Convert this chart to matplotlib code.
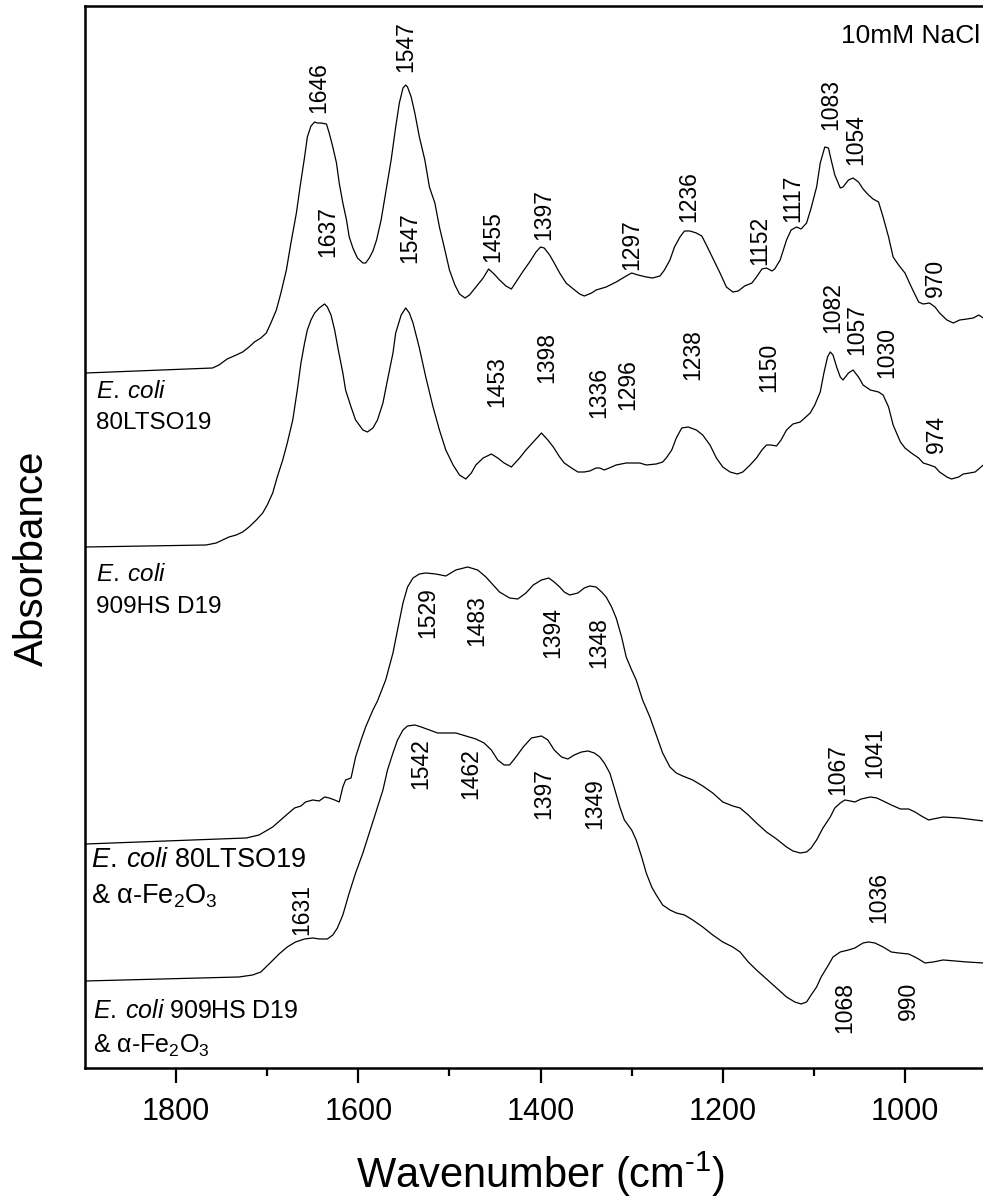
import numpy as np
import matplotlib
matplotlib.use("Agg")
import matplotlib.pyplot as plt

plt.rcParams['font.family'] = ['Liberation Sans', 'DejaVu Sans']
plt.rcParams['mathtext.fontset'] = 'custom'
plt.rcParams['mathtext.rm'] = 'Liberation Sans'
plt.rcParams['mathtext.it'] = 'Liberation Sans:italic'

# spectra: (wavenumber cm-1, stacked absorbance in arb. units)
trace_1 = [(1899, 695), (1760, 700), (1753, 703), (1744, 709), (1734, 713), (1727, 716),
           (1720, 721), (1714, 726), (1707, 730), (1701, 735), (1696, 745), (1690, 758),
           (1685, 775), (1679, 798), (1674, 825), (1668, 855), (1664, 881), (1659, 911),
           (1656, 931), (1652, 942), (1648, 946), (1645, 945), (1641, 945), (1635, 944),
           (1632, 935), (1628, 921), (1624, 905), (1621, 885), (1617, 865), (1613, 848),
           (1610, 831), (1606, 820), (1601, 810), (1595, 805), (1592, 805), (1588, 810),
           (1584, 817), (1580, 828), (1575, 848), (1570, 875), (1564, 908), (1559, 941),
           (1555, 965), (1551, 980), (1548, 983), (1546, 981), (1542, 971), (1538, 955),
           (1533, 931), (1527, 908), (1522, 881), (1516, 865), (1511, 841), (1505, 818),
           (1500, 798), (1494, 783), (1489, 774), (1483, 770), (1478, 773), (1471, 781),
           (1463, 790), (1457, 799), (1451, 794), (1445, 788), (1438, 782), (1432, 779),
           (1427, 786), (1419, 797), (1412, 806), (1405, 816), (1400, 821), (1396, 820),
           (1390, 813), (1385, 805), (1379, 795), (1372, 785), (1364, 779), (1357, 774),
           (1352, 772), (1344, 775), (1339, 778), (1328, 781), (1317, 786), (1306, 792),
           (1300, 795), (1293, 793), (1284, 791), (1277, 790), (1269, 792), (1264, 798),
           (1258, 808), (1253, 821), (1247, 831), (1242, 837), (1236, 837), (1229, 835),
           (1223, 832), (1218, 823), (1211, 810), (1203, 795), (1196, 781), (1189, 776),
           (1183, 777), (1176, 782), (1168, 785), (1163, 791), (1157, 799), (1152, 800),
           (1146, 797), (1143, 799), (1137, 808), (1130, 828), (1125, 838), (1119, 841),
           (1114, 839), (1108, 845), (1103, 860), (1097, 881), (1093, 905), (1088, 921),
           (1084, 920), (1081, 908), (1077, 893), (1071, 880), (1068, 881), (1062, 888),
           (1057, 890), (1051, 886), (1046, 879), (1040, 873), (1035, 869), (1029, 866),
           (1024, 851), (1018, 831), (1013, 811), (1007, 803), (1000, 795), (993, 781),
           (985, 766), (980, 764), (973, 765), (967, 761), (962, 755), (954, 748),
           (947, 745), (940, 748), (932, 749), (925, 750), (919, 753), (914, 750), (900, 748)]

trace_2 = [(1899, 521), (1767, 523), (1756, 525), (1749, 528), (1742, 531), (1734, 533),
           (1727, 536), (1720, 541), (1712, 548), (1705, 555), (1700, 563), (1694, 575),
           (1689, 591), (1683, 608), (1678, 625), (1672, 648), (1667, 678), (1663, 705),
           (1659, 725), (1656, 738), (1652, 748), (1648, 755), (1643, 760), (1637, 764),
           (1634, 761), (1630, 753), (1626, 738), (1622, 718), (1617, 695), (1614, 678),
           (1608, 661), (1603, 648), (1595, 638), (1590, 636), (1584, 640), (1579, 648),
           (1573, 665), (1568, 688), (1562, 715), (1559, 735), (1553, 753), (1548, 760),
           (1544, 755), (1540, 745), (1533, 720), (1526, 691), (1518, 661), (1511, 638),
           (1504, 618), (1496, 603), (1489, 593), (1482, 589), (1476, 595), (1471, 603),
           (1463, 610), (1454, 614), (1447, 610), (1440, 605), (1432, 601), (1423, 610),
           (1416, 618), (1408, 626), (1399, 635), (1392, 628), (1386, 621), (1379, 611),
           (1374, 605), (1366, 600), (1359, 596), (1352, 596), (1346, 597), (1339, 600),
           (1335, 600), (1330, 598), (1322, 601), (1317, 603), (1306, 605), (1299, 605),
           (1291, 605), (1284, 603), (1273, 604), (1266, 606), (1262, 610), (1256, 618),
           (1251, 630), (1245, 640), (1238, 641), (1229, 638), (1222, 633), (1214, 623),
           (1207, 610), (1200, 601), (1192, 596), (1184, 594), (1178, 596), (1170, 603),
           (1163, 610), (1157, 618), (1152, 623), (1147, 623), (1141, 622), (1136, 628),
           (1130, 638), (1123, 644), (1115, 646), (1110, 650), (1104, 655), (1099, 663),
           (1093, 676), (1089, 695), (1085, 711), (1082, 716), (1079, 713), (1075, 701),
           (1071, 691), (1068, 688), (1062, 695), (1057, 698), (1051, 691), (1046, 683),
           (1038, 678), (1029, 676), (1024, 673), (1018, 661), (1013, 643), (1005, 626),
           (1000, 620), (993, 615), (985, 610), (980, 605), (973, 603), (967, 601),
           (962, 596), (954, 591), (949, 589), (941, 591), (936, 594), (929, 595),
           (923, 596), (914, 603), (900, 601)]

trace_3 = [(1899, 224), (1723, 230), (1709, 233), (1694, 241), (1679, 253), (1670, 260),
           (1663, 262), (1658, 266), (1650, 268), (1643, 267), (1637, 271), (1632, 270),
           (1626, 268), (1621, 266), (1617, 281), (1614, 288), (1608, 290), (1603, 311),
           (1597, 328), (1592, 341), (1584, 358), (1579, 367), (1570, 388), (1562, 415),
           (1557, 438), (1551, 465), (1546, 481), (1540, 490), (1533, 494), (1526, 495),
           (1515, 494), (1504, 492), (1493, 498), (1480, 501), (1469, 498), (1460, 491),
           (1452, 483), (1445, 476), (1434, 470), (1425, 469), (1416, 475), (1408, 483),
           (1399, 488), (1391, 490), (1385, 486), (1379, 481), (1374, 476), (1368, 473),
           (1359, 475), (1352, 480), (1346, 482), (1339, 481), (1333, 476), (1328, 471),
           (1322, 461), (1317, 450), (1311, 431), (1306, 411), (1300, 398), (1295, 388),
           (1288, 368), (1280, 351), (1273, 333), (1266, 315), (1258, 301), (1251, 295),
           (1244, 292), (1233, 288), (1222, 282), (1211, 275), (1200, 266), (1189, 262),
           (1181, 260), (1172, 253), (1163, 245), (1152, 236), (1141, 229), (1130, 221),
           (1123, 217), (1115, 215), (1108, 216), (1103, 220), (1097, 228), (1090, 240),
           (1082, 251), (1077, 260), (1071, 265), (1066, 268), (1060, 267), (1055, 266),
           (1048, 269), (1038, 271), (1031, 270), (1024, 267), (1015, 263), (1005, 259),
           (996, 259), (989, 256), (982, 252), (974, 248), (969, 249), (958, 251),
           (940, 250), (914, 247), (900, 246)]

trace_4 = [(1899, 87), (1731, 91), (1716, 93), (1707, 96), (1698, 104), (1687, 114),
           (1678, 121), (1669, 126), (1659, 129), (1650, 130), (1643, 129), (1634, 129),
           (1628, 133), (1623, 140), (1617, 153), (1610, 175), (1603, 195), (1595, 215),
           (1588, 235), (1581, 255), (1573, 278), (1568, 298), (1562, 315), (1557, 328),
           (1551, 338), (1546, 342), (1538, 343), (1531, 341), (1522, 338), (1513, 335),
           (1504, 335), (1493, 335), (1482, 332), (1471, 329), (1462, 325), (1454, 318),
           (1447, 308), (1440, 303), (1434, 303), (1427, 311), (1419, 321), (1410, 330),
           (1399, 332), (1392, 328), (1385, 318), (1377, 311), (1370, 309), (1363, 313),
           (1355, 316), (1348, 317), (1341, 315), (1335, 311), (1330, 305), (1324, 295),
           (1319, 280), (1313, 261), (1308, 248), (1300, 238), (1295, 228), (1289, 211),
           (1284, 195), (1278, 181), (1273, 173), (1266, 163), (1258, 158), (1251, 155),
           (1242, 153), (1233, 148), (1222, 141), (1211, 133), (1200, 126), (1189, 121),
           (1181, 116), (1172, 106), (1163, 98), (1152, 89), (1141, 80), (1130, 71),
           (1121, 66), (1114, 64), (1108, 66), (1103, 73), (1097, 81), (1092, 91),
           (1084, 103), (1079, 111), (1071, 116), (1062, 118), (1055, 120), (1046, 125),
           (1040, 126), (1033, 125), (1024, 121), (1015, 116), (1007, 115), (996, 114),
           (987, 110), (978, 105), (969, 106), (958, 108), (932, 106), (914, 105), (900, 104)]

# peak labels: text, x position, y of the text edge next to the curve, side
peak_txt = ['1646', '1547', '1637', '1547', '1455', '1397', '1297', '1236', '1152',
            '1117', '1083', '1054', '970',
            '1453', '1398', '1336', '1296', '1238', '1150', '1082', '1057', '1030', '974',
            '1529', '1483', '1394', '1348', '1067', '1041',
            '1542', '1462', '1397', '1349', '1068', '990', '1631', '1036']
peak_x = [1643, 1548, 1634, 1544, 1453, 1396, 1300, 1237, 1159,
          1123, 1082, 1054, 967,
          1448, 1393, 1336, 1304, 1233, 1149, 1079, 1053, 1020, 965,
          1524, 1470, 1387, 1336, 1074, 1033,
          1531, 1477, 1397, 1341, 1066, 996, 1662, 1029]
peak_y = [955, 996, 811, 805, 806, 828, 798, 846, 803,
          846, 938, 903, 771,
          661, 685, 650, 658, 688, 676, 735, 713, 690, 615,
          481, 473, 461, 451, 273, 290,
          330, 320, 300, 290, 86, 86, 133, 145]
peak_va = ['bottom'] * 23 + ['top'] * 4 + ['bottom'] * 2 + ['top'] * 6 + ['bottom'] * 2

ecoli = r'$\mathit{E.\:coli}$'
sample_txt = [ecoli, '80LTSO19',
              ecoli, '909HS D19',
              ecoli + ' 80LTSO19', r'& α-Fe$_2$O$_3$',
              ecoli + ' 909HS D19', r'& α-Fe$_2$O$_3$']
sample_x = [1888, 1888, 1888, 1888, 1893, 1893, 1891, 1891]
sample_y = [670, 639, 487, 455, 201, 164, 50, 15]
sample_fs = [17.5, 17.5, 17.5, 17.5, 19.5, 19.5, 18, 18]

fig = plt.figure(figsize=(9.83, 12.02), dpi=100)
ax = fig.add_axes([0.0865, 0.1115, 0.9268, 0.8835])

for tr in [trace_1, trace_2, trace_3, trace_4]:
    wn, ab = np.array(tr).T
    ax.plot(wn, ab, color='black', lw=0.9)

for t, x, y, va in zip(peak_txt, peak_x, peak_y, peak_va):
    ax.text(x, y, t, rotation=90, ha='center', va=va, fontsize=16.5)

for t, x, y, fs in zip(sample_txt, sample_x, sample_y, sample_fs):
    ax.text(x, y, t, ha='left', va='baseline', fontsize=fs)

ax.text(917, 1025, '10mM NaCl', ha='right', va='baseline', fontsize=19)

ax.set_xlim(1900, 900)
ax.set_ylim(0, 1062)
ax.set_xticks([1800, 1600, 1400, 1200, 1000])
ax.set_xticks([1700, 1500, 1300, 1100], minor=True)
ax.set_yticks([])
ax.tick_params(axis='x', which='major', direction='out', length=11, width=1.6,
               labelsize=22, pad=10)
ax.tick_params(axis='x', which='minor', direction='out', length=6, width=1.6)
for s in ax.spines.values():
    s.set_linewidth(1.8)

ax.set_xlabel(r'Wavenumber (cm$^{\text{-}1}$)', fontsize=30, labelpad=16)
ax.set_ylabel('Absorbance', fontsize=29)
ax.yaxis.set_label_coords(-0.037, 0.48)

fig.savefig('out.png', dpi=100)
